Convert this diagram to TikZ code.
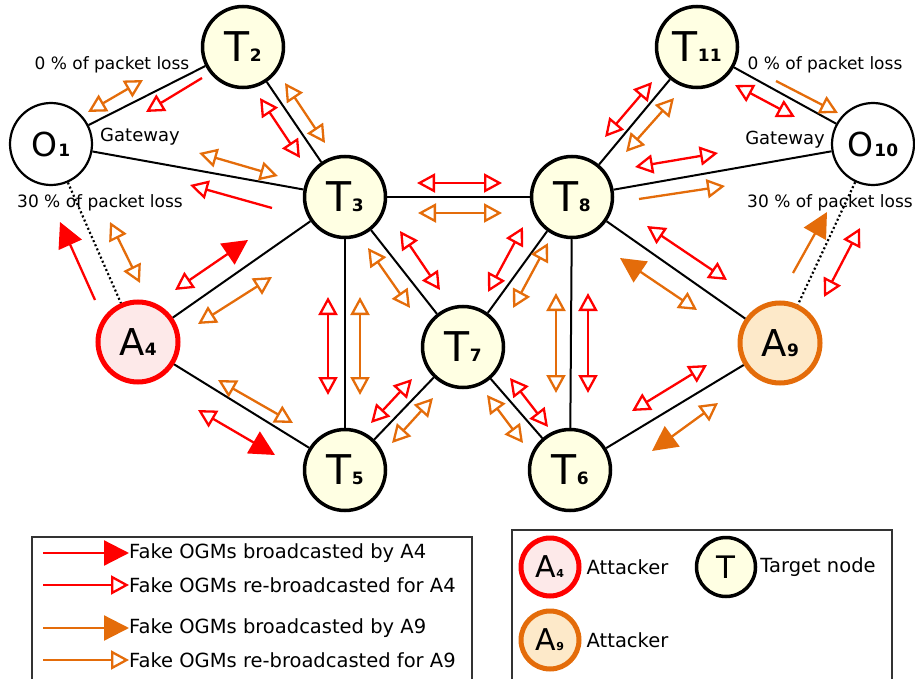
\documentclass[tikz,border=0pt]{standalone}
\usepackage{fontspec}
\setmainfont{DejaVu Sans}
\usetikzlibrary{arrows.meta,positioning}
\definecolor{orng}{HTML}{E46C0A}
\definecolor{tfill}{HTML}{FFFFE3}
\definecolor{pinkfill}{HTML}{FDE9E9}
\definecolor{apricot}{HTML}{FDE9C9}
\newcommand{\idx}[2]{#1\kern0.5pt{\fontsize{17}{17}\selectfont\bfseries #2}}
\tikzstyle{target}=[circle,draw=black,line width=3.5pt,fill=tfill,minimum size=81pt,inner sep=0pt,font=\fontsize{41}{41}\selectfont]
\tikzstyle{gate}=[circle,draw=black,line width=2.2pt,fill=white,minimum size=82pt,inner sep=0pt,font=\fontsize{33}{33}\selectfont]
\tikzstyle{attred}=[circle,draw=red,line width=5pt,fill=pinkfill,minimum size=80pt,inner sep=0pt,font=\fontsize{37}{37}\selectfont]
\tikzstyle{attorng}=[circle,draw=orng,line width=5pt,fill=apricot,minimum size=80pt,inner sep=0pt,font=\fontsize{37}{37}\selectfont]
\tikzstyle{link}=[line width=2pt]
\tikzstyle{lossy}=[line width=2.2pt,dash pattern=on 2pt off 2.5pt]
\tikzstyle{rd}=[draw=red,line width=2.3pt]
\tikzstyle{og}=[draw=orng,line width=2.3pt]
\tikzstyle{lbl}=[inner sep=0pt,font=\fontsize{17}{17}\selectfont]
\tikzstyle{keytext}=[inner sep=0pt,anchor=west,font=\fontsize{19.5}{19.5}\selectfont]
\tikzset{op/.tip={Triangle[open,length=18pt,width=19pt]},
  fl/.tip={Triangle[length=25pt,width=25pt]}}

\begin{document}
\begin{tikzpicture}[x=1pt,y=-1pt]
  \useasboundingbox (0,0) rectangle (915,679);
  % Knoten zeichnen
  \node[gate] (O1) at (51,144) {\idx{O}{1}};
  \node[target] (T2) at (243,47) {\idx{T}{2}};
  \node[target] (T3) at (345,197) {\idx{T}{3}};
  \node[attred] (A4) at (138,342) {\idx{A}{4}};
  \node[target] (T5) at (345,470) {\idx{T}{5}};
  \node[target] (T6) at (570,470) {\idx{T}{6}};
  \node[target] (T7) at (463,347) {\idx{T}{7}};
  \node[target] (T8) at (572,197) {\idx{T}{8}};
  \node[attorng] (A9) at (780,343) {\idx{A}{9}};
  \node[gate] (O10) at (873,144) {\idx{O}{10}};
  \node[target] (T11) at (697,47) {\idx{T}{11}};
  % Kanten zeichnen
  \draw[link] (O1) -- (T2);
  \draw[link] (O1) -- (T3);
  \draw[link] (T2) -- (T3);
  \draw[link] (T3) -- (T8);
  \draw[link] (T3) -- (A4);
  \draw[link] (T3) -- (T5);
  \draw[link] (T3) -- (T7);
  \draw[link] (A4) -- (T5);
  \draw[link] (T7) -- (T5);
  \draw[link] (T7) -- (T6);
  \draw[link] (T8) -- (T7);
  \draw[link] (T8) -- (T6);
  \draw[link] (T8) -- (T11);
  \draw[link] (T8) -- (O10);
  \draw[link] (T8) -- (A9);
  \draw[link] (T11) -- (O10);
  \draw[link] (A9) -- (T6);
  \draw[lossy] (O1) -- (A4);
  \draw[lossy] (O10) -- (A9);
  % Beschriftungen
  \node[lbl] (loss1) at (112,65) {0 \% of packet loss};
  \node[lbl,font=\fontsize{18}{18}\selectfont] (gw1) at (140,137) {Gateway};
  \node[lbl] (lossy1) at (100,203) {30 \% of packet loss};
  \node[lbl] (loss10) at (825,65) {0 \% of packet loss};
  \node[lbl,font=\fontsize{18}{18}\selectfont] (gw10) at (785,140) {Gateway};
  \node[lbl] (lossy10) at (830,203) {30 \% of packet loss};
  % Pfeile rot (re-broadcast)
  \foreach \xa/\ya/\xb/\yb in {260/98/300/158, 328/297/328/395, 417/183/502/183,
      400/231/440/290, 523/227/488/292, 588/293/588/393, 412/379/371/423,
      510/378/548/427, 652/82/605/137, 735/85/795/117, 635/167/718/153,
      647/226/727/280, 860/228/824/297, 707/365/632/411}
    \draw[rd,op-op] (\xa,\ya) -- (\xb,\yb);
  % Pfeile orange (re-broadcast)
  \foreach \xa/\ya/\xb/\yb in {88/112/143/80, 199/153/278/176, 285/83/325/143,
      110/222/140/283, 198/324/272/277, 218/380/293/423, 360/297/360/395,
      418/213/502/213, 368/248/410/308, 548/243/513/308, 556/293/556/393,
      433/398/392/443, 487/395/523/443, 674/98/626/152}
    \draw[og,op-op] (\xa,\ya) -- (\xb,\yb);
  % einseitige Pfeile
  \draw[rd,-op] (202,78) -- (146,112);
  \draw[rd,-op] (272,208) -- (190,185);
  \draw[og,-op] (776,81) -- (838,113);
  \draw[og,-op] (639,199) -- (725,186);
  % Pfeile der Angreifer
  \draw[rd,-fl] (95,300) -- (60,222);
  \draw[rd,op-fl] (175,290) -- (248,240);
  \draw[rd,op-fl] (198,410) -- (275,455);
  \draw[og,fl-op] (620,258) -- (697,310);
  \draw[og,-fl] (793,273) -- (827,212);
  \draw[og,op-fl] (718,403) -- (652,451);
  % Legende links
  \draw[line width=1.2pt,black!80] (32,679) |- (472,537) -- (472,679);
  \node[keytext] (k1) at (129,553) {Fake OGMs broadcasted by A4};
  \node[keytext] (k2) at (129,585) {Fake OGMs re-broadcasted for A4};
  \node[keytext] (k3) at (129,628) {Fake OGMs broadcasted by A9};
  \node[keytext] (k4) at (129,660) {Fake OGMs re-broadcasted for A9};
  \draw[rd,-fl] (43,553) -- (k1.west);
  \draw[rd,-op] (43,585) -- (k2.west);
  \draw[og,-fl] (43,628) -- (k3.west);
  \draw[og,-op] (43,660) -- (k4.west);
  % Legende rechts
  \draw[line width=1.2pt,black!80] (512,679) |- (892,530) -- (892,679);
  \node[attred,minimum size=58pt,font=\fontsize{30}{30}\selectfont] (legA4) at (550,567) {A{\fontsize{11}{11}\selectfont\bfseries 4}};
  \node[keytext,right=5pt of legA4] (legatt4) {Attacker};
  \node[target,minimum size=59pt,font=\fontsize{31}{31}\selectfont] (legT) at (726,567) {T};
  \node[keytext,right=3pt of legT] (legtn) {Target node};
  \node[attorng,minimum size=58pt,font=\fontsize{30}{30}\selectfont] (legA9) at (550,640) {A{\fontsize{11}{11}\selectfont\bfseries 9}};
  \node[keytext,right=5pt of legA9] (legatt9) {Attacker};
\end{tikzpicture}
\end{document}
